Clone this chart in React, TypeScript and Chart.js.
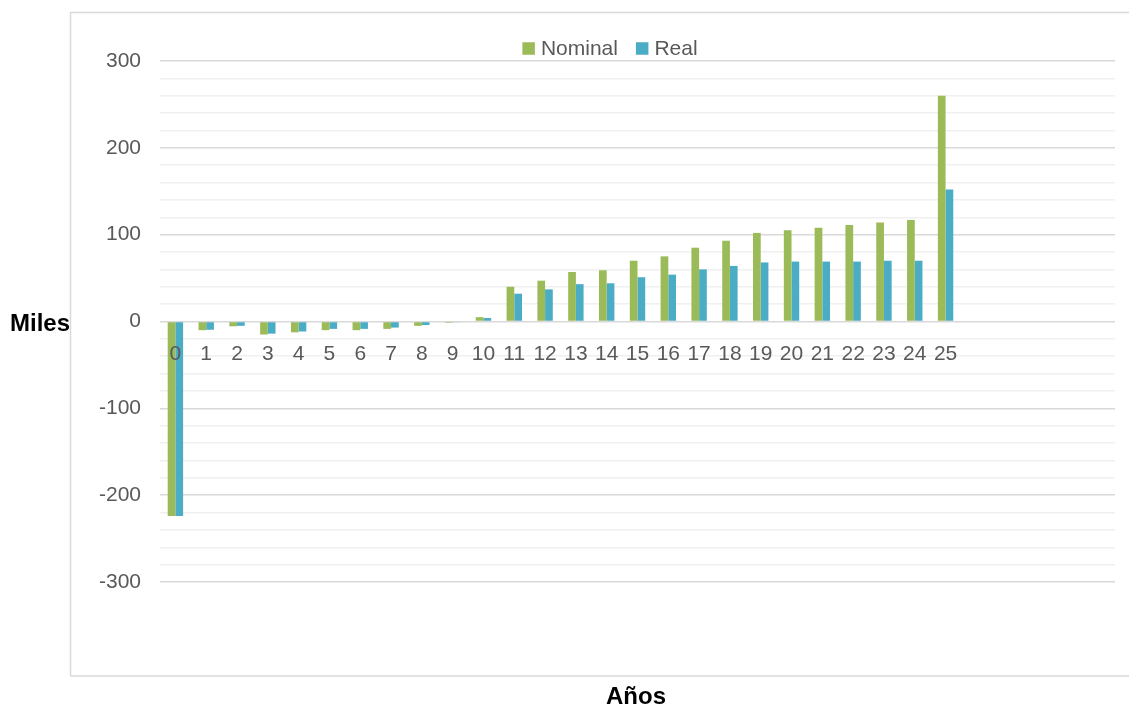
import React, { useEffect, useRef } from 'react';
import { Chart, registerables } from 'chart.js';

Chart.register(...registerables);

// Category labels (years) plus empty trailing slots that the original axis keeps
const years = ['0', '1', '2', '3', '4', '5', '6', '7', '8', '9', '10', '11', '12', '13', '14', '15', '16', '17', '18', '19', '20', '21', '22', '23', '24', '25'];
const emptySlots = ['', '', '', '', ''];

// Series values (miles)
const nominal = [-224, -10, -5.5, -15, -12.5, -10, -10, -8.5, -5, -1.5, 5, 40, 47, 57, 59, 70, 75, 85, 93, 102, 105, 108, 111, 114, 117, 260];
const real = [-224, -9.5, -5, -14, -11.5, -8.5, -8.5, -7, -4, -1, 4, 32, 37, 43, 44, 51, 54, 60, 64, 68, 69, 69, 69, 70, 70, 152];

const seriesNames = ['Nominal', 'Real'];
const seriesColors = ['#9BBB59', '#4BACC6'];

const yMin = -300;
const yMax = 300;
const yMinorStep = 20;
const yMajorStep = 100;

const yTitle = 'Miles';
const xTitle = 'Años';

const tickFont = { family: "'Liberation Sans', Arial, sans-serif", size: 21 };
const tickColor = '#595959';

const decorPlugin = {
  id: 'decor',
  beforeDraw(chart: any) {
    const { ctx } = chart;
    ctx.save();
    ctx.fillStyle = '#ffffff';
    ctx.fillRect(0, 0, chart.width, chart.height);
    ctx.strokeStyle = '#d9d9d9';
    ctx.lineWidth = 1.5;
    ctx.beginPath();
    ctx.moveTo(70.5, 676);
    ctx.lineTo(70.5, 12.5);
    ctx.lineTo(chart.width, 12.5);
    ctx.moveTo(70.5, 676);
    ctx.lineTo(chart.width, 676);
    ctx.stroke();
    ctx.restore();
  },
  afterDraw(chart: any) {
    const { ctx } = chart;
    ctx.save();
    // axis titles
    ctx.fillStyle = '#000000';
    ctx.font = "bold 24px 'Liberation Sans', Arial, sans-serif";
    ctx.textBaseline = 'alphabetic';
    ctx.textAlign = 'left';
    ctx.fillText(yTitle, 10, 331);
    ctx.textAlign = 'center';
    ctx.fillText(xTitle, 636, 704);

    // legend
    ctx.font = `${tickFont.size}px ${tickFont.family}`;
    const box = 12.5;
    const gap = 6;
    const spacing = 18;
    const items = chart.data.datasets.map((d: any) => ({
      label: d.label,
      color: d.backgroundColor,
      w: ctx.measureText(d.label).width,
    }));
    const total = items.reduce((s: number, it: any) => s + box + gap + it.w, 0) + spacing * (items.length - 1);
    let x = 610 - total / 2;
    const cy = 48.5;
    ctx.textAlign = 'left';
    ctx.textBaseline = 'middle';
    items.forEach((it: any) => {
      ctx.fillStyle = it.color;
      ctx.fillRect(x, cy - box / 2, box, box);
      x += box + gap;
      ctx.fillStyle = tickColor;
      ctx.fillText(it.label, x, cy + 1);
      x += it.w + spacing;
    });
    ctx.restore();
  },
};

export default function App() {
  const canvasRef = useRef<HTMLCanvasElement | null>(null);

  useEffect(() => {
    if (!canvasRef.current) return;
    const chart = new Chart(canvasRef.current, {
      type: 'bar',
      data: {
        labels: [...years, ...emptySlots],
        datasets: [
          { label: seriesNames[0], data: nominal, backgroundColor: seriesColors[0], borderWidth: 0 },
          { label: seriesNames[1], data: real, backgroundColor: seriesColors[1], borderWidth: 0 },
        ],
      },
      options: {
        animation: false,
        responsive: true,
        maintainAspectRatio: false,
        layout: { padding: { top: 61, left: 0, right: 14, bottom: 125 } },
        datasets: { bar: { categoryPercentage: 0.5, barPercentage: 1.0 } },
        plugins: {
          legend: { display: false },
          tooltip: { enabled: false },
        },
        scales: {
          x: {
            type: 'category',
            position: { y: 0 } as any,
            grid: { display: false },
            border: { display: false },
            ticks: {
              z: 1,
              color: tickColor,
              font: tickFont,
              padding: 12,
              maxRotation: 0,
              autoSkip: false,
            },
          },
          y: {
            min: yMin,
            max: yMax,
            afterFit(scale: any) {
              scale.width = 160;
            },
            border: { display: false },
            grid: {
              drawTicks: false,
              lineWidth: 1.5,
              color: (c: any) => (c.tick && c.tick.value % yMajorStep === 0 ? '#d9d9d9' : '#f0f0f0'),
            },
            ticks: {
              stepSize: yMinorStep,
              color: tickColor,
              font: tickFont,
              padding: 19,
              autoSkip: false,
              callback: (v: any) => (Number(v) % yMajorStep === 0 ? String(v) : ''),
            },
          },
        },
      },
      plugins: [decorPlugin],
    });
    return () => chart.destroy();
  }, []);

  return (
    <div style={{ position: 'absolute', left: 0, top: 0, width: 1129, height: 707 }}>
      <canvas ref={canvasRef} />
    </div>
  );
}
